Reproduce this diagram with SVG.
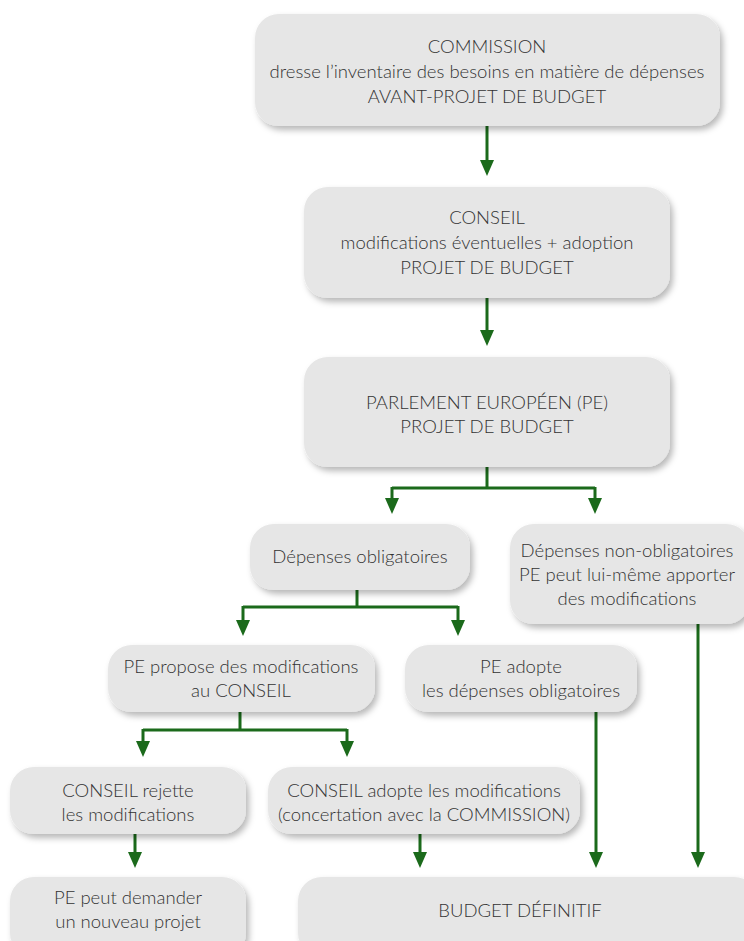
<svg xmlns="http://www.w3.org/2000/svg" width="744" height="941" viewBox="0 0 744 941">
<defs>
<filter id="sh" x="-10%" y="-20%" width="130%" height="150%">
<feDropShadow dx="3" dy="4" stdDeviation="3" flood-color="#000" flood-opacity="0.28"/>
</filter>
<marker id="ah" markerWidth="16" markerHeight="14" refX="2" refY="7" orient="auto" markerUnits="userSpaceOnUse" viewBox="0 0 16 14">
<path d="M0,0 L16,7 L0,14 Z" fill="#1b6a1b"/>
</marker>
<style>
.box{fill:#e6e6e6;filter:url(#sh);}
.t{font-family:Lato,"Noto Sans","Liberation Sans",sans-serif;font-weight:300;font-size:18.5px;fill:#333;text-anchor:middle;}
.c{fill:none;stroke:#1b6a1b;stroke-width:3;}
</style>
</defs>
<rect width="744" height="941" fill="#fff"/>
<g id="connectors">
<path class="c" d="M487,126 V162" marker-end="url(#ah)"/>
<path class="c" d="M487,298 V332" marker-end="url(#ah)"/>
<path class="c" d="M487,467 V488"/>
<path class="c" d="M392,488 H595"/>
<path class="c" d="M392,487 V500" marker-end="url(#ah)"/>
<path class="c" d="M595,487 V500" marker-end="url(#ah)"/>
<path class="c" d="M357,590 V607"/>
<path class="c" d="M243,607 H458"/>
<path class="c" d="M243,606 V622" marker-end="url(#ah)"/>
<path class="c" d="M458,606 V622" marker-end="url(#ah)"/>
<path class="c" d="M240,712 V730"/>
<path class="c" d="M143,730 H347"/>
<path class="c" d="M143,729 V743" marker-end="url(#ah)"/>
<path class="c" d="M347,729 V743" marker-end="url(#ah)"/>
<path class="c" d="M135,834 V854" marker-end="url(#ah)"/>
<path class="c" d="M420,834 V854" marker-end="url(#ah)"/>
<path class="c" d="M596,712 V854" marker-end="url(#ah)"/>
<path class="c" d="M698,624 V854" marker-end="url(#ah)"/>
</g>
<g id="commission">
<rect class="box" x="255" y="14" width="465" height="112" rx="24"/>
<text class="t" x="487" y="53">COMMISSION</text>
<text class="t" x="487" y="78">dresse l’inventaire des besoins en matière de dépenses</text>
<text class="t" x="487" y="103">AVANT-PROJET DE BUDGET</text>
</g>
<g id="conseil">
<rect class="box" x="304" y="187" width="366" height="111" rx="24"/>
<text class="t" x="487" y="224">CONSEIL</text>
<text class="t" x="487" y="249">modifications éventuelles + adoption</text>
<text class="t" x="487" y="274">PROJET DE BUDGET</text>
</g>
<g id="parlement">
<rect class="box" x="304" y="357" width="366" height="110" rx="24"/>
<text class="t" x="487" y="409">PARLEMENT EUROPÉEN (PE)</text>
<text class="t" x="487" y="433">PROJET DE BUDGET</text>
</g>
<g id="dep-oblig">
<rect class="box" x="250" y="524" width="220" height="66" rx="24"/>
<text class="t" x="360" y="563">Dépenses obligatoires</text>
</g>
<g id="dep-non-oblig">
<rect class="box" x="510" y="524" width="240" height="100" rx="24"/>
<text class="t" x="627" y="557">Dépenses non-obligatoires</text>
<text class="t" x="627" y="581">PE peut lui-même apporter</text>
<text class="t" x="627" y="605">des modifications</text>
</g>
<g id="pe-propose">
<rect class="box" x="108" y="645" width="267" height="67" rx="24"/>
<text class="t" x="241" y="673">PE propose des modifications</text>
<text class="t" x="241" y="697">au CONSEIL</text>
</g>
<g id="pe-adopte">
<rect class="box" x="405" y="645" width="232" height="67" rx="24"/>
<text class="t" x="521" y="673">PE adopte</text>
<text class="t" x="521" y="697">les dépenses obligatoires</text>
</g>
<g id="conseil-rejette">
<rect class="box" x="10" y="767" width="236" height="67" rx="24"/>
<text class="t" x="128" y="797">CONSEIL rejette</text>
<text class="t" x="128" y="821">les modifications</text>
</g>
<g id="conseil-adopte">
<rect class="box" x="268" y="767" width="312" height="67" rx="24"/>
<text class="t" x="424" y="797">CONSEIL adopte les modifications</text>
<text class="t" x="424" y="821">(concertation avec la COMMISSION)</text>
</g>
<g id="pe-demander">
<rect class="box" x="10" y="877" width="236" height="80" rx="24"/>
<text class="t" x="128" y="904">PE peut demander</text>
<text class="t" x="128" y="928">un nouveau projet</text>
</g>
<g id="budget-definitif">
<rect class="box" x="298" y="877" width="460" height="80" rx="24"/>
<text class="t" x="520" y="917">BUDGET DÉFINITIF</text>
</g>
</svg>
